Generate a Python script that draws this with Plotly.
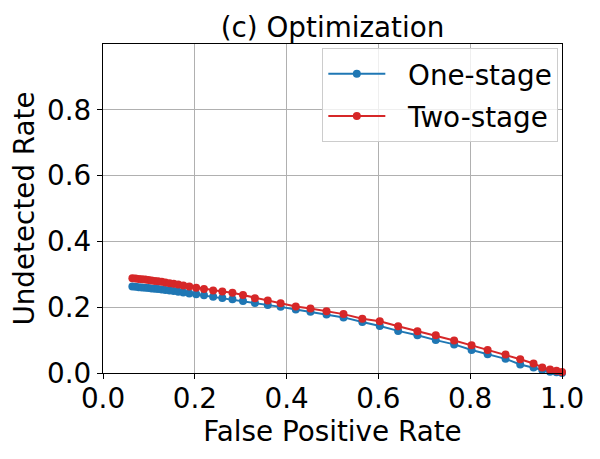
import plotly.graph_objects as go

fpr_two = [0.064,0.071,0.078,0.085,0.092,0.099,0.106,0.113,0.120,0.128,0.136,0.145,0.154,0.164,0.175,0.188,0.203,0.220,0.240,0.260,0.282,0.305,0.331,0.359,0.387,0.420,0.452,0.487,0.524,0.565,0.603,0.643,0.685,0.725,0.765,0.803,0.838,0.877,0.909,0.938,0.957,0.974,0.988,1.0]
und_two = [0.288,0.287,0.286,0.285,0.284,0.283,0.281,0.280,0.279,0.277,0.275,0.273,0.271,0.269,0.266,0.263,0.259,0.255,0.251,0.248,0.244,0.237,0.227,0.220,0.212,0.202,0.196,0.188,0.179,0.165,0.157,0.142,0.127,0.115,0.099,0.084,0.070,0.056,0.042,0.029,0.017,0.011,0.007,0.003]

fpr_one = fpr_two
und_one = [0.263,0.262,0.261,0.260,0.259,0.258,0.257,0.256,0.255,0.254,0.252,0.251,0.249,0.247,0.245,0.242,0.239,0.236,0.232,0.228,0.224,0.219,0.213,0.207,0.201,0.193,0.186,0.178,0.169,0.155,0.143,0.128,0.115,0.100,0.087,0.070,0.057,0.043,0.026,0.017,0.009,0.004,0.002,0.0]

series_names = ["One-stage", "Two-stage"]
ticks = [0.0, 0.2, 0.4, 0.6, 0.8, 1.0]
yticks = [0.0, 0.2, 0.4, 0.6, 0.8]

font = "DejaVu Sans"
fs = 27.8
NB = "\u00a0\u00a0"
fig = go.Figure()
fig.add_trace(go.Scatter(x=fpr_one, y=und_one, mode="lines+markers", name=NB + series_names[0],
                         legendgroup="a",
                         line=dict(color="#1f77b4", width=2), marker=dict(size=8, color="#1f77b4"),
                         cliponaxis=False))
fig.add_trace(go.Scatter(x=fpr_two, y=und_two, mode="lines+markers", name=NB + series_names[1],
                         legendgroup="b",
                         line=dict(color="#d62728", width=2), marker=dict(size=8, color="#d62728"),
                         cliponaxis=False))

axis_common = dict(showline=True, linecolor="black", linewidth=1.3, mirror=True,
                   ticks="outside", ticklen=5, tickwidth=1.3, tickcolor="black",
                   showgrid=True, gridcolor="#b0b0b0", gridwidth=1, zeroline=False,
                   tickfont=dict(family=font, size=fs, color="black"))
fig.update_xaxes(range=[0, 1], tickvals=ticks, ticktext=[f"{t:.1f}" for t in ticks],
                 ticklabelstandoff=-5,
                 title=dict(text="False Positive Rate", font=dict(family=font, size=fs, color="black"), standoff=2),
                 **axis_common)
fig.update_yaxes(range=[0, 1], tickvals=yticks, ticktext=[f"{t:.1f}" for t in yticks],
                 title=dict(text="Undetected Rate", font=dict(family=font, size=fs, color="black"), standoff=8),
                 **axis_common)

fig.update_layout(
    width=600, height=459,
    margin=dict(l=95, r=46, t=36, b=94),
    plot_bgcolor="white", paper_bgcolor="white",
    title=dict(text="(c) Optimization", xref="paper", x=0.5, xanchor="center",
               yref="paper", y=1.0, yanchor="bottom", pad=dict(b=7),
               font=dict(family=font, size=fs, color="black")),
    legend=dict(x=0.992, y=0.987, xanchor="right", yanchor="top",
                bgcolor="rgba(255,255,255,0.8)", bordercolor="#cccccc", borderwidth=1,
                font=dict(family=font, size=fs, color="black"), itemwidth=57,
                traceorder="grouped", tracegroupgap=3),
    showlegend=True,
)
fig.write_html("out.html")
